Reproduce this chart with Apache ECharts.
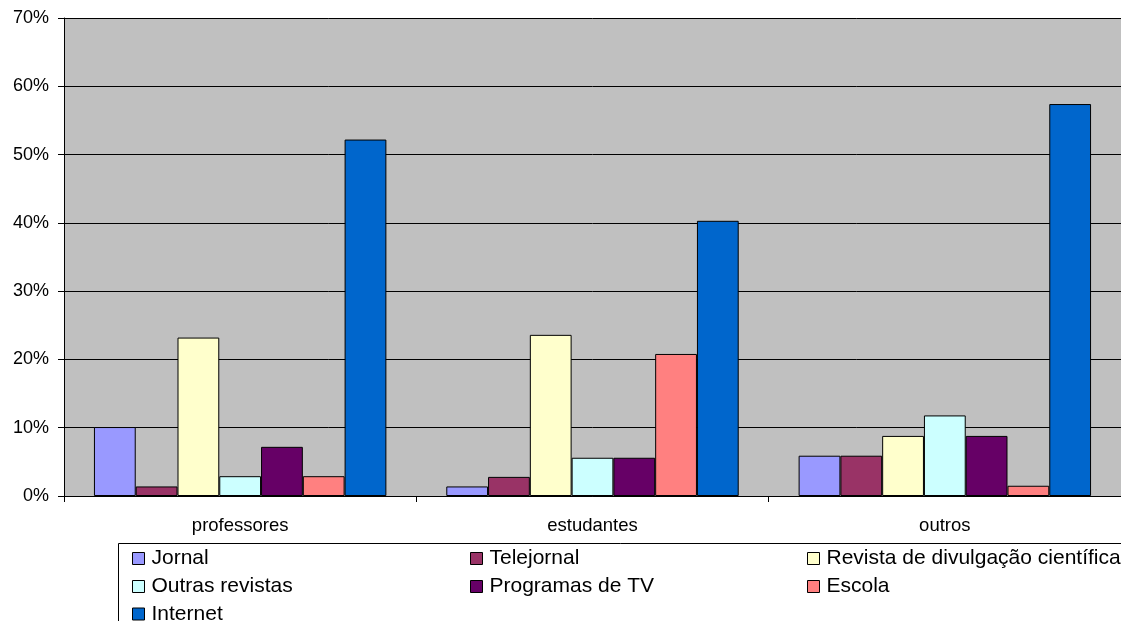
<!DOCTYPE html>
<html>
<head>
<meta charset="utf-8">
<script src="https://cdn.jsdelivr.net/npm/echarts@6/dist/echarts.min.js"></script>
<style>
  html, body { margin: 0; padding: 0; background: #fff; overflow: hidden; }
  #chart { width: 1121px; height: 621px; }
</style>
</head>
<body>
<div id="chart"></div>
<script>
// Groups of respondents
const categories = ['professores', 'estudantes', 'outros'];

// Share of answers per information source (%)
const jornal      = [10.1, 1.4, 5.9];
const telejornal  = [1.4, 2.8, 5.9];
const revistaDiv  = [23.2, 23.6, 8.8];
const outrasRev   = [2.9, 5.6, 11.8];
const programasTV = [7.2, 5.6, 8.8];
const escola      = [2.9, 20.8, 1.5];
const internet    = [52.2, 40.3, 57.4];

const yTicks = { min: 0, max: 70, interval: 10 };

const seriesDefs = [
  { name: 'Jornal', data: jornal, color: '#9999FF' },
  { name: 'Telejornal', data: telejornal, color: '#993366' },
  { name: 'Revista de divulgação científica', data: revistaDiv, color: '#FFFFCC' },
  { name: 'Outras revistas', data: outrasRev, color: '#CCFFFF' },
  { name: 'Programas de TV', data: programasTV, color: '#660066' },
  { name: 'Escola', data: escola, color: '#FF8080' },
  { name: 'Internet', data: internet, color: '#0066CC' }
];

const font = 'Liberation Sans, Arial, sans-serif';

// Legend laid out as a 3-column table inside a framed box
const legendCols = [132, 470, 807];
const legendRows = [548, 576, 603.5];
const legendSlots = [
  ['Jornal', 0, 0], ['Telejornal', 1, 0], ['Revista de divulgação científica', 2, 0],
  ['Outras revistas', 0, 1], ['Programas de TV', 1, 1], ['Escola', 2, 1],
  ['Internet', 0, 2]
];
const legends = legendSlots.map(([name, c, r]) => ({
  data: [name],
  left: legendCols[c],
  top: legendRows[r],
  orient: 'horizontal',
  itemWidth: 12,
  itemHeight: 12,
  icon: 'rect',
  selectedMode: false,
  padding: 0,
  itemStyle: { borderColor: '#000', borderWidth: 1 },
  textStyle: { fontFamily: font, fontSize: 21, color: '#000', padding: [0, 0, 0, 2] }
}));

const chart = echarts.init(document.getElementById('chart'), null, { renderer: 'canvas' });
chart.setOption({
  animation: false,
  backgroundColor: '#fff',
  grid: {
    left: 64, top: 18, width: 1059, height: 478,
    show: true, backgroundColor: '#C0C0C0', borderWidth: 0
  },
  legend: legends,
  graphic: [{
    type: 'rect',
    shape: { x: 118.5, y: 543.5, width: 1020, height: 100 },
    style: { fill: 'none', stroke: '#000', lineWidth: 1 },
    z: -1
  }],
  xAxis: {
    type: 'category',
    data: categories,
    axisLine: { lineStyle: { color: '#000', width: 1 } },
    axisTick: { show: true, length: 6, lineStyle: { color: '#000' } },
    axisLabel: { fontFamily: font, fontSize: 18.5, color: '#000', margin: 20 }
  },
  yAxis: {
    type: 'value',
    min: yTicks.min, max: yTicks.max, interval: yTicks.interval,
    axisLine: { show: true, lineStyle: { color: '#000', width: 1 } },
    axisTick: { show: true, length: 6, lineStyle: { color: '#000' } },
    axisLabel: { formatter: '{value}%', fontFamily: font, fontSize: 18, color: '#000', margin: 15 },
    splitLine: { show: true, lineStyle: { color: '#000', width: 1 } }
  },
  series: seriesDefs.map(s => ({
    type: 'bar',
    name: s.name,
    data: s.data,
    barGap: '0%',
    barCategoryGap: '17%',
    itemStyle: { color: s.color, borderColor: '#000', borderWidth: 1 }
  }))
});
</script>
</body>
</html>
